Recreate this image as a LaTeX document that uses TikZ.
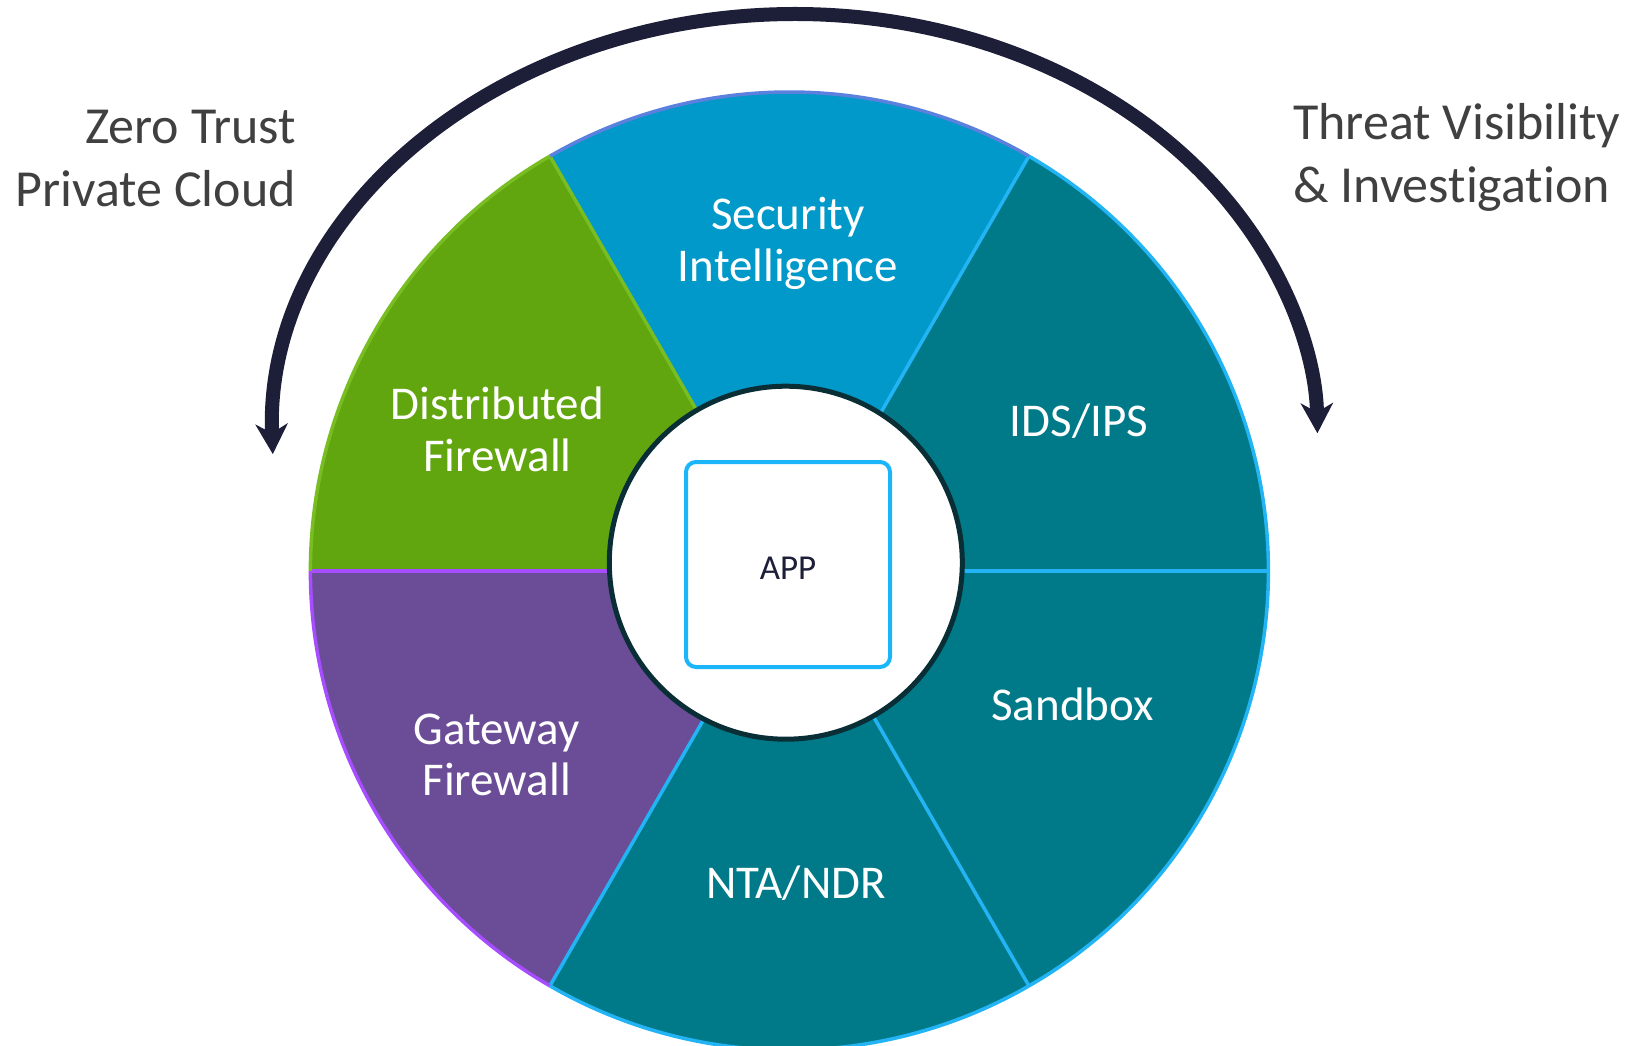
\documentclass[tikz,border=0pt]{standalone}
\usepackage{fontspec}
\setmainfont{Carlito}[Ligatures=NoCommon]
\usetikzlibrary{arrows.meta}
\definecolor{cgreen}{HTML}{62A60F}
\definecolor{cgreenl}{HTML}{78BE22}
\definecolor{cblue}{HTML}{0099C9}
\definecolor{cbluel}{HTML}{5C80DE}
\definecolor{cteal}{HTML}{007A88}
\definecolor{ctealb}{HTML}{22B4F4}
\definecolor{cpurple}{HTML}{6B4C96}
\definecolor{cpurplel}{HTML}{A64DFF}
\definecolor{cring}{HTML}{0A2E36}
\definecolor{cappbox}{HTML}{1BB6FA}
\definecolor{cnavy}{HTML}{1D1E38}
\definecolor{cgray}{HTML}{404040}
\newcommand\seclabfont{\fontsize{47}{56}\selectfont}
\newcommand\sidelabfont{\fontsize{52}{62}\selectfont}
\begin{document}
\begin{tikzpicture}[x=1pt,y=-1pt,
  seclab/.style={text=white, font=\seclabfont, inner sep=0pt, anchor=base},
  sidelab/.style={text=cgray, font=\sidelabfont, inner sep=0pt},
  sepline/.style={line width=3.5pt},
  rimline/.style={line width=3.5pt},
  bigarrow/.style={cnavy, line width=14pt,
    {Stealth[length=30pt,width=32pt,inset=9pt]}-{Stealth[length=30pt,width=32pt,inset=9pt]}}]
\useasboundingbox (0,0) rectangle (1634,1046);
\fill[white] (0,0) rectangle (1634,1046);
\coordinate (C) at (789.4,571);
% sector fills
\fill[cteal]   (C) -- ++(0:479)    arc[start angle=0,   end angle=-60,  radius=479] -- cycle;
\fill[cblue]   (C) -- ++(-60:479)  arc[start angle=-60, end angle=-120, radius=479] -- cycle;
\fill[cgreen]  (C) -- ++(-120:479) arc[start angle=-120,end angle=-180, radius=479] -- cycle;
\fill[cpurple] (C) -- ++(-180:479) arc[start angle=-180,end angle=-240, radius=479] -- cycle;
\fill[cteal]   (C) -- ++(-240:479) arc[start angle=-240,end angle=-300, radius=479] -- cycle;
\fill[cteal]   (C) -- ++(-300:479) arc[start angle=-300,end angle=-360, radius=479] -- cycle;
% separators
\draw[sepline,ctealb]   (C) -- ++(0:479);
\draw[sepline,ctealb]   (C) -- ++(-60:479);
\draw[sepline,cgreenl]  (C) -- ++(-120:479);
\draw[sepline,cpurplel] (C) -- ++(-180:479);
\draw[sepline,ctealb]   (C) -- ++(-240:479);
\draw[sepline,ctealb]   (C) -- ++(-300:479);
% rims
\draw[rimline,ctealb]   (C) ++(0:479)    arc[start angle=0,   end angle=-60,  radius=479];
\draw[rimline,cbluel]   (C) ++(-60:479)  arc[start angle=-60, end angle=-120, radius=479];
\draw[rimline,cgreenl]  (C) ++(-120:479) arc[start angle=-120,end angle=-180, radius=479];
\draw[rimline,cpurplel] (C) ++(-180:479) arc[start angle=-180,end angle=-240, radius=479];
\draw[rimline,ctealb]   (C) ++(-240:479) arc[start angle=-240,end angle=-360, radius=479];
% hub
\node[circle, draw=cring, line width=5pt, fill=white, minimum size=353pt, inner sep=0pt] (hub) at (785.8,562.7) {};
\node[draw=cappbox, line width=4pt, rounded corners=10pt, minimum width=204pt, minimum height=205pt,
      inner sep=0pt, text=cnavy, text height=29pt, text depth=0pt,
      font=\fontsize{35}{40}\selectfont] (app) at (788,564.5) {APP};
% sector labels
\node[seclab] (sec1) at (788,229.3) {Security};
\node[seclab] (sec2) at (788,281) {Intelligence};
\node[seclab] (dfw1) at (497.5,419.3) {Distributed};
\node[seclab] (dfw2) at (497.5,471) {Firewall};
\node[seclab] (ids) at (1079,436) {IDS/IPS};
\node[seclab] (sand) at (1072.5,720.7) {Sandbox};
\node[seclab] (nta) at (796,898.3) {NTA/NDR};
\node[seclab] (gfw1) at (496.7,744.3) {Gateway};
\node[seclab] (gfw2) at (496.7,795) {Firewall};
% side labels
\node[sidelab, anchor=base east] (zt1) at (296,143.3) {Zero Trust};
\node[sidelab, anchor=base east] (zt2) at (296,206) {Private Cloud};
\node[sidelab, anchor=base west] (tv1) at (1293,139.3) {Threat Visibility};
\node[sidelab, anchor=base west] (tv2) at (1293,202.7) {\& Investigation};
% big arrow (elliptical arc)
\coordinate (arcL) at (272.8,454.1);
\draw[bigarrow] (arcL) arc[start angle=-181.9, end angle=-0.9, x radius=522.5, y radius=426];
\end{tikzpicture}
\end{document}
